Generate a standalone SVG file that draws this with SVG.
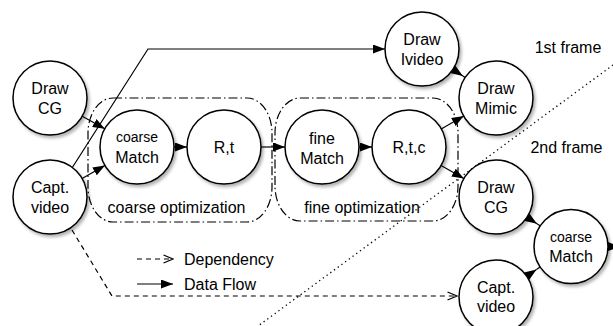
<svg xmlns="http://www.w3.org/2000/svg" width="613" height="326" viewBox="0 0 613 326">
<style>
.n circle{fill:#fff;stroke:#000;stroke-width:1.5;filter:url(#sh)}
text{font-family:"Liberation Sans",Arial,sans-serif;font-size:16px;fill:#000;dominant-baseline:central}
.n text{text-anchor:middle}
.sm{font-size:14px}
.c path,.c line{fill:none;stroke:#000;stroke-width:1.2}
.dep{stroke-dasharray:5,4}
.grp{fill:none;stroke:#000;stroke-width:1.2;stroke-dasharray:9,3,1.5,3}
.dot{fill:none;stroke:#000;stroke-width:1.3;stroke-dasharray:1.3,3.3}
</style>
<defs>
<filter id="sh" x="-20%" y="-20%" width="150%" height="150%">
<feDropShadow dx="2" dy="2.5" stdDeviation="1.6" flood-color="#000" flood-opacity="0.3"/>
</filter>
<marker id="fa" viewBox="0 0 12 9" refX="12" refY="4.5" markerWidth="12" markerHeight="9" markerUnits="userSpaceOnUse" orient="auto"><path d="M0,0 L12,4.5 L0,9 z" fill="#000"/></marker>
<marker id="oa" viewBox="0 0 11 10" refX="10" refY="5" markerWidth="11" markerHeight="10" markerUnits="userSpaceOnUse" orient="auto"><path d="M0.5,1 L10,5 L0.5,9" fill="none" stroke="#000" stroke-width="1.2"/></marker>
</defs>
<rect width="613" height="326" fill="#fff"/>

<g id="groups">
<rect id="coarse-opt" class="grp" x="88" y="98" width="184" height="124" rx="25" ry="35"/>
<rect id="fine-opt" class="grp" x="275" y="98" width="183" height="123" rx="25" ry="35"/>
<text x="176.5" y="207" text-anchor="middle">coarse optimization</text>
<text x="362" y="207" text-anchor="middle">fine optimization</text>
</g>

<path class="dot" d="M613,65 L258,326"/>
<text x="568" y="47" text-anchor="middle">1st frame</text>
<text x="566.5" y="147" text-anchor="middle">2nd frame</text>

<g id="connectors" class="c">
<path d="M82.2,116.2 L104.8,128.8" marker-end="url(#fa)"/>
<path d="M82.1,178.6 L104.9,165.4" marker-end="url(#fa)"/>
<path d="M72,168 L148,49 L385,49" marker-end="url(#fa)"/>
<path d="M174,147 L187,147" marker-end="url(#fa)"/>
<path d="M261,147 L285,147" marker-end="url(#fa)"/>
<path d="M359,147 L372,147" marker-end="url(#fa)"/>
<path d="M441.2,128.9 L463.8,116.1" marker-end="url(#fa)"/>
<path d="M441.1,165.4 L463.9,178.6" marker-end="url(#fa)"/>
<path d="M452.9,69.4 L462.9,76" marker-end="url(#fa)"/>
<path d="M462.9,76 L465.1,77.6"/>
<path d="M527,217.2 L537,223.8" marker-end="url(#fa)"/>
<path d="M537,223.8 L540,225.8"/>
<path d="M526.6,276.2 L536.5,269.4" marker-end="url(#fa)"/>
<path d="M536.5,269.4 L540.4,266.8"/>
<path d="M608,246.5 L620,246.5" marker-end="url(#fa)"/>
<path class="dep" d="M72,230 L112,296 L457,296" marker-end="url(#oa)"/>
<path class="dep" d="M137,259 L173,259" marker-end="url(#oa)"/>
<path d="M137,284 L173,284" marker-end="url(#fa)"/>
</g>

<g id="legend">
<text x="184" y="259">Dependency</text>
<text x="184" y="284">Data Flow</text>
</g>

<g id="drawcg1" class="n"><circle cx="50" cy="98" r="37"/><text x="50" y="88">Draw</text><text x="50" y="108">CG</text></g>
<g id="capt1" class="n"><circle cx="50" cy="197" r="37"/><text x="50" y="187">Capt.</text><text x="50" y="207">video</text></g>
<g id="coarse1" class="n"><circle cx="137" cy="147" r="37"/><text class="sm" x="137" y="137">coarse</text><text x="137" y="157">Match</text></g>
<g id="rt" class="n"><circle cx="224" cy="147" r="37"/><text x="224" y="147">R,t</text></g>
<g id="fine" class="n"><circle cx="322" cy="147" r="37"/><text x="322" y="138">fine</text><text x="322" y="158">Match</text></g>
<g id="rtc" class="n"><circle cx="409" cy="147" r="37"/><text x="409" y="147">R,t,c</text></g>
<g id="ivideo" class="n"><circle cx="422" cy="49" r="37"/><text x="422" y="39">Draw</text><text x="422" y="59">Ivideo</text></g>
<g id="mimic" class="n"><circle cx="496" cy="98" r="37"/><text x="496" y="88">Draw</text><text x="496" y="108">Mimic</text></g>
<g id="drawcg2" class="n"><circle cx="496" cy="197" r="37"/><text x="496" y="187">Draw</text><text x="496" y="207">CG</text></g>
<g id="coarse2" class="n"><circle cx="571" cy="246.5" r="37"/><text class="sm" x="571" y="237">coarse</text><text x="571" y="256">Match</text></g>
<g id="capt2" class="n"><circle cx="496" cy="297" r="37"/><text x="496" y="287">Capt.</text><text x="496" y="306">video</text></g>
</svg>
